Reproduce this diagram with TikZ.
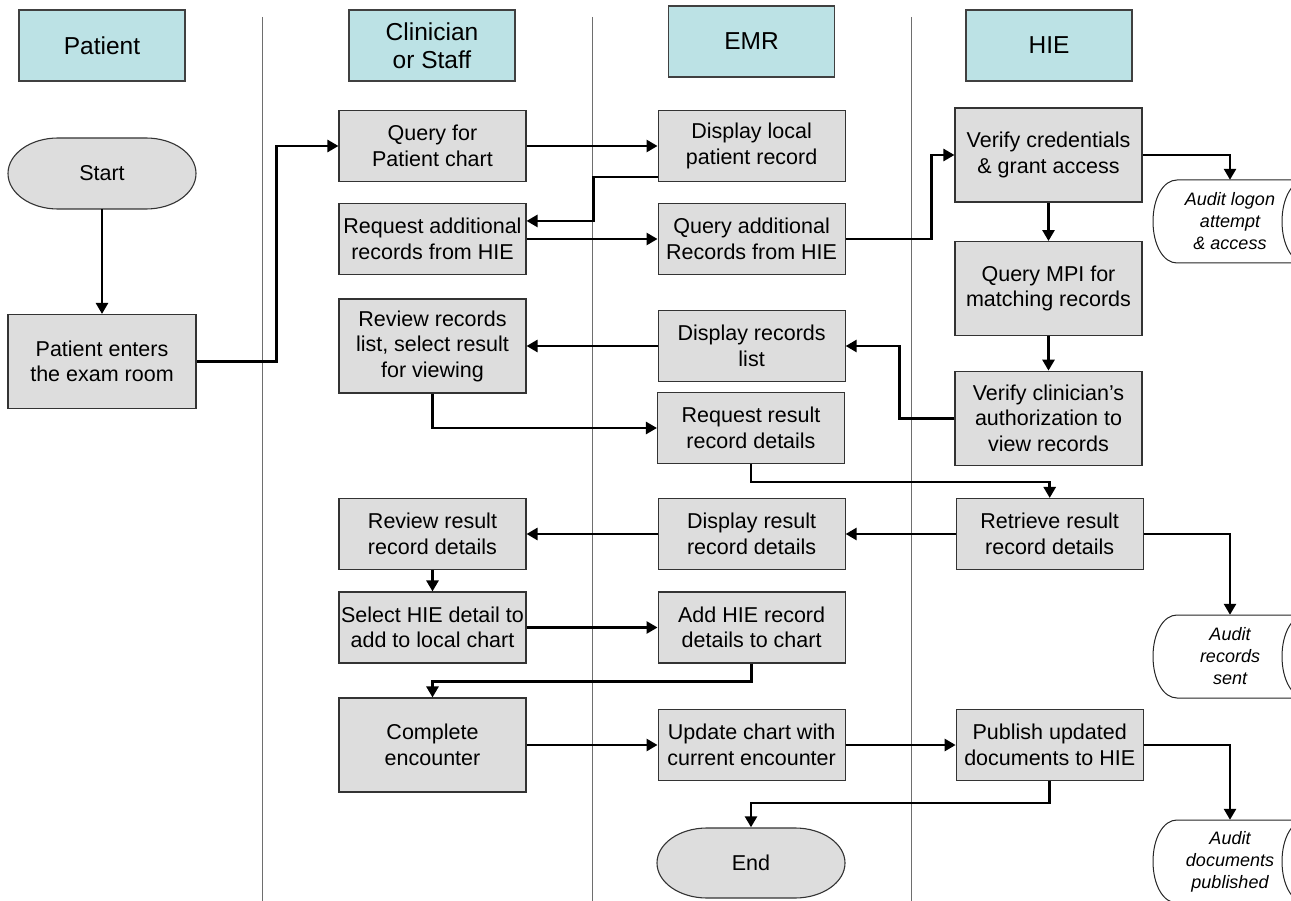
\documentclass[tikz,border=0pt]{standalone}
\usepackage{fontspec}
\setmainfont{Liberation Sans}
\usetikzlibrary{arrows.meta,positioning,calc}
\definecolor{lanecyan}{HTML}{BCE2E5}
\definecolor{stepgray}{HTML}{DDDDDD}
\definecolor{rulegray}{HTML}{6E6E6E}

\begin{document}
\begin{tikzpicture}[
    x=1pt, y=-1pt,
    lane/.style={rectangle, draw=black!75, fill=lanecyan, line width=1.1pt, align=center, minimum width=166pt, minimum height=71pt, font=\fontsize{24.5}{28}\selectfont},
    stepbox/.style={rectangle, draw=black!80, fill=stepgray, line width=1.1pt, align=center, inner sep=1pt, minimum width=187pt, minimum height=71pt, font=\fontsize{21.5}{25.5}\selectfont},
    tallbox/.style={stepbox, minimum height=94pt},
    termshape/.style={draw=black!80, fill=stepgray, line width=1.1pt},
    term/.style={rectangle, inner sep=0pt, minimum width=188pt, minimum height=71pt, font=\fontsize{21.5}{25.5}\selectfont},
    storeshape/.style={draw=black!85, fill=white, line width=1pt},
    audit/.style={rectangle, inner sep=0pt, align=center, minimum height=83pt, font=\fontsize{18}{22}\selectfont\itshape},
    divider/.style={draw=rulegray, line width=0.9pt},
    arrow/.style={-{Triangle[length=11pt,width=12pt]}, line width=2.6pt}
  ]
    \useasboundingbox (0,0) rectangle (1291,901);

    % swimlane rules
    \draw[divider] (262,17) -- (262,901);
    \draw[divider] (592,17) -- (592,901);
    \draw[divider] (911,17) -- (911,901);

    % lane headers
    \node[lane] (hpatient) at (102,45.5) {Patient};
    \node[lane] (hclin) at (432,45.5) {Clinician\\or Staff};
    \node[lane] (hemr) at (751.5,41.5) {EMR};
    \node[lane] (hhie) at (1049,45.5) {HIE};

    % terminals
    \path[termshape] (58,138) -- (146,138) .. controls +(27.6,0) and +(0,-19.6) .. (196,173.5) .. controls +(0,19.6) and +(27.6,0) .. (146,209) -- (58,209) .. controls +(-27.6,0) and +(0,19.6) .. (8,173.5) .. controls +(0,-19.6) and +(-27.6,0) .. (58,138) -- cycle;
    \path[termshape] (707,828) -- (795,828) .. controls +(27.6,0) and +(0,-19.3) .. (845,863) .. controls +(0,19.3) and +(27.6,0) .. (795,898) -- (707,898) .. controls +(-27.6,0) and +(0,19.3) .. (657,863) .. controls +(0,-19.3) and +(-27.6,0) .. (707,828) -- cycle;
    \node[term] (start) at (102,173.5) {Start};
    \node[term] (finish) at (751,863) {End};

    % audit stores (cut by the right edge)
    \begin{scope}
      \clip (0,0) rectangle (1291,901);
      \path[storeshape] (1177,180) -- (1306,180) .. controls +(-14,0) and +(0,-23) .. (1282,221.5) .. controls +(0,23) and +(-14,0) .. (1306,263) -- (1177,263) .. controls +(-14,0) and +(0,23) .. (1153,221.5) .. controls +(0,-23) and +(-14,0) .. (1177,180) -- cycle;
      \path[storeshape] (1177,615) -- (1306,615) .. controls +(-14,0) and +(0,-23) .. (1282,656.5) .. controls +(0,23) and +(-14,0) .. (1306,698) -- (1177,698) .. controls +(-14,0) and +(0,23) .. (1153,656.5) .. controls +(0,-23) and +(-14,0) .. (1177,615) -- cycle;
      \path[storeshape] (1177,820) -- (1306,820) .. controls +(-14,0) and +(0,-23) .. (1282,861.5) .. controls +(0,23) and +(-14,0) .. (1306,903) -- (1177,903) .. controls +(-14,0) and +(0,23) .. (1153,861.5) .. controls +(0,-23) and +(-14,0) .. (1177,820) -- cycle;
    \end{scope}
    \node[audit] (auditlogon) at (1230,221.5) {Audit logon\\attempt\\\& access};
    \node[audit] (auditsent) at (1230,656.5) {Audit\\records\\sent};
    \node[audit] (auditpub) at (1230,861.5) {Audit\\documents\\published};

    % patient
    \node[tallbox, minimum width=188pt] (enters) at (102,361.5) {Patient enters\\the exam room};

    % clinician or staff
    \node[stepbox] (query) at (432.5,146) {Query for\\Patient chart};
    \node[stepbox] (reqadd) at (432.5,239) {Request additional\\records from HIE};
    \node[tallbox] (reviewrec) at (432.5,346) {Review records\\list, select result\\for viewing};
    \node[stepbox] (reviewres) at (432.5,534) {Review result\\record details};
    \node[stepbox] (selecthie) at (432.5,627.5) {Select HIE detail to\\add to local chart};
    \node[tallbox] (complete) at (432.5,745) {Complete\\encounter};

    % EMR
    \node[stepbox, right=131pt of query] (displocal) {Display local\\patient record};
    \node[stepbox, right=131pt of reqadd] (queryadd) {Query additional\\Records from HIE};
    \node[stepbox, right=131pt of reviewrec] (disprec) {Display records\\list};
    \node[stepbox] (reqres) at (751,428) {Request result\\record details};
    \node[stepbox, right=131pt of reviewres] (dispres) {Display result\\record details};
    \node[stepbox, right=131pt of selecthie] (addhie) {Add HIE record\\details to chart};
    \node[stepbox, right=131pt of complete] (update) {Update chart with\\current encounter};

    % HIE
    \node[tallbox] (verifycred) at (1048.5,155) {Verify credentials\\\& grant access};
    \node[tallbox, below=38.5pt of verifycred] (querympi) {Query MPI for\\matching records};
    \node[tallbox, below=34.5pt of querympi] (verifyclin) {Verify clinician’s\\authorization to\\view records};
    \node[stepbox, right=110pt of dispres] (retrieve) {Retrieve result\\record details};
    \node[stepbox, right=110pt of update] (publish) {Publish updated\\documents to HIE};

    % flow
    \draw[arrow] (start.south) -- (enters.north);
    \draw[arrow] (enters.east) -- ++(80,0) |- (query.west);
    \draw[arrow] (query.east) -- (displocal.west);
    \draw[arrow] ($(displocal.south west)+(0,-5)$) -- ++(-64,0) |- ($(reqadd.north east)+(0,18)$);
    \draw[arrow] (reqadd.east) -- (queryadd.west);
    \draw[arrow] (queryadd.east) -- ++(86,0) |- (verifycred.west);
    \draw[arrow] (verifycred.east) -| (auditlogon.north);
    \draw[arrow] (verifycred.south) -- (querympi.north);
    \draw[arrow] (querympi.south) -- (verifyclin.north);
    \draw[arrow] (verifyclin.west) -- ++(-55,0) |- (disprec.east);
    \draw[arrow] (disprec.west) -- (reviewrec.east);
    \draw[arrow] (reviewrec.south) |- (reqres.west);
    \draw[arrow] (reqres.south) -- ++(0,18) -| (retrieve.north);
    \draw[arrow] (retrieve.west) -- (dispres.east);
    \draw[arrow] (dispres.west) -- (reviewres.east);
    \draw[arrow] (retrieve.east) -| (auditsent.north);
    \draw[arrow] (reviewres.south) -- (selecthie.north);
    \draw[arrow] (selecthie.east) -- (addhie.west);
    \draw[arrow] (addhie.south) -- ++(0,18) -| (complete.north);
    \draw[arrow] (complete.east) -- (update.west);
    \draw[arrow] (update.east) -- (publish.west);
    \draw[arrow] (publish.south) -- ++(0,22) -| (finish.north);
    \draw[arrow] (publish.east) -| (auditpub.north);
  \end{tikzpicture}
\end{document}
